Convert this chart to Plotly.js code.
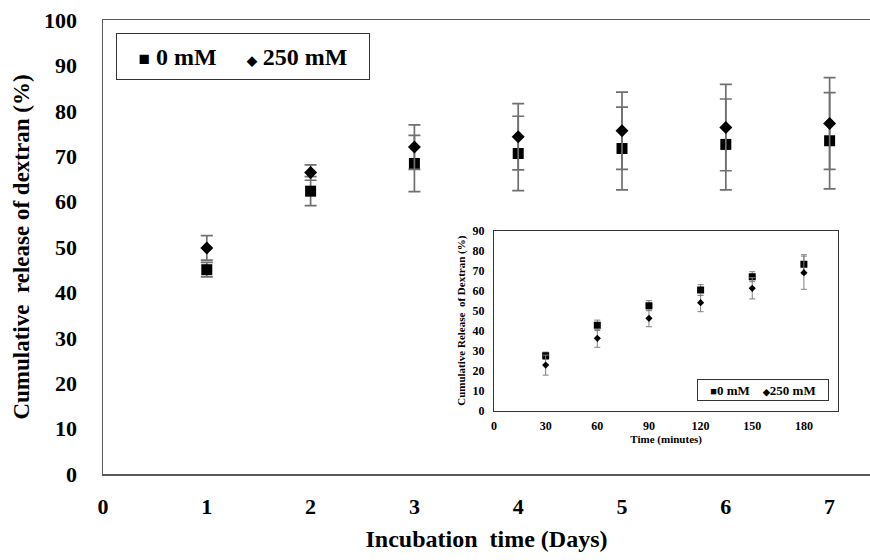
<!DOCTYPE html>
<html>
<head>
<meta charset="utf-8">
<script src="https://cdn.plot.ly/plotly-3.0.1.min.js"></script>
<style>html,body{margin:0;padding:0;background:#fff}#chart{width:870px;height:560px}</style>
</head>
<body>
<div id="chart"></div>
<script>
// Main chart: incubation days
const days = [1, 2, 3, 4, 5, 6, 7];
const main0mM = [45.0, 62.3, 68.4, 70.6, 71.7, 72.6, 73.4];
const main0mMErr = [1.6, 3.2, 6.2, 8.2, 9.1, 10.0, 10.6];
const main250mM = [49.8, 66.4, 72.0, 74.3, 75.6, 76.3, 77.2];
const main250mMErr = [2.7, 1.7, 4.9, 7.3, 8.5, 9.5, 10.1];
const mainXTicks = [0, 1, 2, 3, 4, 5, 6, 7];

// Inset chart: minutes
const minutes = [30, 60, 90, 120, 150, 180];
const inset0mM = [27.5, 42.7, 52.5, 60.3, 67.0, 73.2];
const inset0mMErr = [1.8, 2.6, 2.5, 2.7, 2.5, 4.8];
const inset250mM = [22.8, 36.2, 46.2, 54.0, 61.2, 69.0];
const inset250mMErr = [5.0, 4.5, 4.2, 4.5, 5.3, 8.3];
const insetXTicks = [0, 30, 60, 90, 120, 150, 180];

const serif = '"Liberation Serif", "Times New Roman", serif';
const errColMain = '#707070';

const traces = [
  {x: days, y: main0mM, type: 'scatter', mode: 'markers', name: '0 mM',
   marker: {symbol: 'square', size: 11, color: '#000'},
   error_y: {type: 'data', array: main0mMErr, visible: true, color: errColMain, thickness: 1.7, width: 6},
   xaxis: 'x', yaxis: 'y', showlegend: false},
  {x: days, y: main250mM, type: 'scatter', mode: 'markers', name: '250 mM',
   marker: {symbol: 'diamond', size: 10, color: '#000'},
   error_y: {type: 'data', array: main250mMErr, visible: true, color: errColMain, thickness: 1.7, width: 6},
   xaxis: 'x', yaxis: 'y', showlegend: false},
  {x: minutes, y: inset0mM, type: 'scatter', mode: 'markers', name: '0 mM',
   marker: {symbol: 'square', size: 7, color: '#000'},
   error_y: {type: 'data', array: inset0mMErr, visible: true, color: '#808080', thickness: 1, width: 3},
   xaxis: 'x2', yaxis: 'y2', showlegend: false},
  {x: minutes, y: inset250mM, type: 'scatter', mode: 'markers', name: '250 mM',
   marker: {symbol: 'diamond', size: 5.5, color: '#000'},
   error_y: {type: 'data', array: inset250mMErr, visible: true, color: '#808080', thickness: 1, width: 3},
   xaxis: 'x2', yaxis: 'y2', showlegend: false}
];

const nb = '\u00A0';
const layout = {
  width: 870, height: 560,
  margin: {l: 103, r: 0, t: 20, b: 86},
  paper_bgcolor: '#fff', plot_bgcolor: '#fff',
  showlegend: false,
  font: {family: serif, color: '#000'},
  xaxis: {
    domain: [0, 1], range: [0, 7.389], tickvals: mainXTicks,
    showgrid: false, zeroline: false, ticks: '',
    showline: true, mirror: true, linecolor: '#5a5a5a', linewidth: 1.5,
    tickfont: {family: serif, size: 22, weight: 'bold', color: '#000'},
    ticklabelstandoff: 12,
    title: {text: 'Incubation' + nb + nb + 'time (Days)', font: {family: serif, size: 24, weight: 'bold', color: '#000'}, standoff: 12}
  },
  yaxis: {
    domain: [0, 1], range: [0, 100], dtick: 10,
    showgrid: false, zeroline: false, ticks: '',
    showline: true, mirror: false, linecolor: '#5a5a5a', linewidth: 1.5,
    tickfont: {family: serif, size: 22, weight: 'bold', color: '#000'},
    ticklabelstandoff: 20,
    title: {text: 'Cumulative' + nb + nb + 'release of dextran (%)', font: {family: serif, size: 23, weight: 'bold', color: '#000'}, standoff: 8}
  },
  xaxis2: {
    domain: [0.5098, 0.9587], range: [0, 200], tickvals: insetXTicks, anchor: 'y2',
    showgrid: false, zeroline: false, ticks: '',
    showline: true, mirror: true, linecolor: '#333', linewidth: 1,
    tickfont: {family: serif, size: 12, weight: 'bold', color: '#000'},
    ticklabelstandoff: 4,
    title: {text: 'Time (minutes)', font: {family: serif, size: 11, weight: 'bold', color: '#000'}, standoff: 2}
  },
  yaxis2: {
    domain: [0.1394, 0.5359], range: [0, 90], dtick: 10, anchor: 'x2',
    showgrid: false, zeroline: false, ticks: '',
    showline: true, mirror: true, linecolor: '#333', linewidth: 1,
    tickfont: {family: serif, size: 12, weight: 'bold', color: '#000'},
    ticklabelstandoff: 6,
    title: {text: 'Cumulative Release' + nb + nb + 'of Dextran (%)', font: {family: serif, size: 11, weight: 'bold', color: '#000'}, standoff: 4}
  },
  annotations: [
    {xref: 'paper', yref: 'paper', x: 0.01695, y: 0.9707, xanchor: 'left', yanchor: 'top',
     width: 252, height: 45, borderpad: 0, bordercolor: '#333', borderwidth: 1, bgcolor: '#fff',
     showarrow: false, align: 'center', valign: 'middle',
     font: {family: serif, size: 24, weight: 'bold', color: '#000'},
     text: '<span style="font-size:19px">■</span>' + nb + '0 mM' + nb + nb + nb + nb + nb + '<span style="font-size:13px">◆</span>' + nb + '250 mM'},
    {xref: 'paper', yref: 'paper', x: 0.7741, y: 0.2086, xanchor: 'left', yanchor: 'top',
     width: 130, height: 20, borderpad: 0, bordercolor: '#333', borderwidth: 1, bgcolor: '#fff',
     showarrow: false, align: 'center', valign: 'middle',
     font: {family: serif, size: 13, weight: 'bold', color: '#000'},
     text: '<span style="font-size:11px">■</span>0 mM' + nb + nb + nb + nb + '<span style="font-size:9px">◆</span>250 mM'}
  ]
};

Plotly.newPlot('chart', traces, layout, {displayModeBar: false, staticPlot: true});
</script>
</body>
</html>
